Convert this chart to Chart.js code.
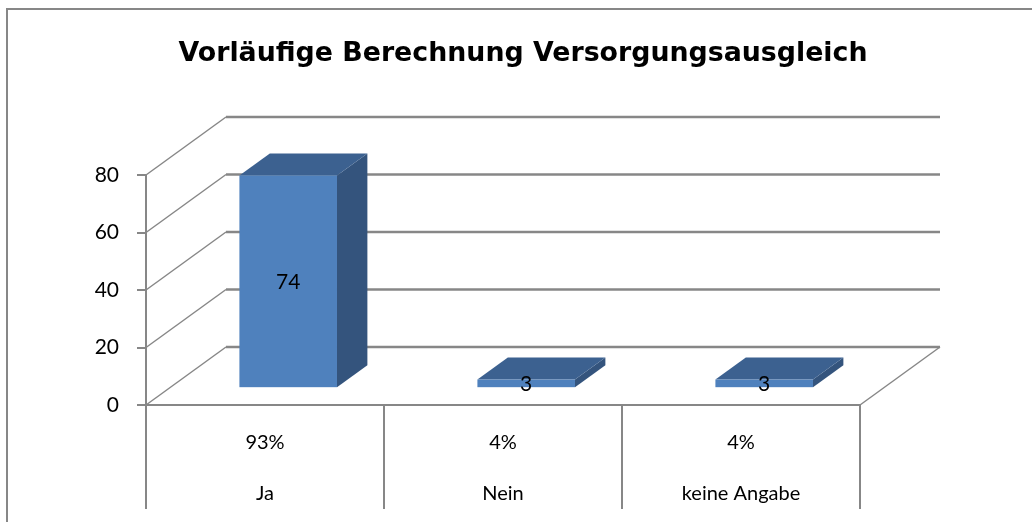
<!DOCTYPE html>
<html>
<head>
<meta charset="utf-8">
<script src="https://cdn.jsdelivr.net/npm/chart.js@4/dist/chart.umd.min.js"></script>
<style>
  html, body { margin: 0; padding: 0; background: #fff; }
  #wrap { width: 1032px; height: 522px; }
</style>
</head>
<body>
<div id="wrap"><canvas id="c" width="1032" height="522"></canvas></div>
<script>
var chartTitle = 'Vorläufige Berechnung Versorgungsausgleich';
var categories = ['Ja', 'Nein', 'keine Angabe'];
var counts = [74, 3, 3];
var shares = ['93%', '4%', '4%'];
var yTicks = [0, 20, 40, 60, 80];

var FONT = 'Lato, "Liberation Sans", sans-serif';
var GRID = '#878787';
// depth of the 3d box (floor goes back by DX, DY), bars sit between D0 and D1
var DX = 80, DY = -58;
var D0 = 0.29, D1 = 0.67;

var excel3d = {
    id: 'excel3d',
    beforeDatasetsDraw: function (chart) {
        var ctx = chart.ctx, a = chart.chartArea;
        var x = chart.scales.x, y = chart.scales.y;
        var y0 = y.getPixelForValue(0);
        ctx.save();

        // outer frame
        ctx.strokeStyle = GRID;
        ctx.lineWidth = 2;
        ctx.beginPath();
        ctx.moveTo(7, 522);
        ctx.lineTo(7, 9);
        ctx.lineTo(1032, 9);
        ctx.stroke();

        // title
        ctx.fillStyle = '#000';
        ctx.font = 'bold 26.8px "DejaVu Sans", sans-serif';
        ctx.textAlign = 'center';
        ctx.textBaseline = 'alphabetic';
        ctx.fillText(chartTitle, 523, 61);

        // side wall diagonals + back wall gridlines
        yTicks.forEach(function (v) {
            var py = y.getPixelForValue(v);
            ctx.lineWidth = 1.5;
            ctx.beginPath();
            ctx.moveTo(a.left, py);
            ctx.lineTo(a.left + DX, py + DY);
            ctx.stroke();
            ctx.lineWidth = 2.5;
            ctx.beginPath();
            ctx.moveTo(a.left + DX, py + DY);
            ctx.lineTo(a.right + DX, py + DY);
            ctx.stroke();
        });

        // floor
        ctx.lineWidth = 2;
        ctx.beginPath();
        ctx.moveTo(a.left, y0);
        ctx.lineTo(a.right, y0);
        ctx.stroke();
        ctx.lineWidth = 1.5;
        ctx.beginPath();
        ctx.moveTo(a.right, y0);
        ctx.lineTo(a.right + DX, y0 + DY);
        ctx.stroke();

        // category table under the floor
        var cw = x.getPixelForValue(1) - x.getPixelForValue(0);
        ctx.lineWidth = 2;
        for (var i = 0; i <= categories.length; i++) {
            var bx = x.getPixelForValue(0) - cw / 2 + i * cw;
            ctx.beginPath();
            ctx.moveTo(bx, y0);
            ctx.lineTo(bx, y0 + 104);
            ctx.stroke();
        }
        ctx.font = '20px ' + FONT;
        ctx.textBaseline = 'middle';
        categories.forEach(function (c, i) {
            var cx = x.getPixelForValue(i);
            ctx.fillText(shares[i], cx, y0 + 38);
            ctx.fillText(c, cx, y0 + 89);
        });
        ctx.restore();
    },
    afterDatasetsDraw: function (chart) {
        var ctx = chart.ctx;
        var meta = chart.getDatasetMeta(0);
        var fx = DX * D0, fy = DY * D0;
        var bx = DX * (D1 - D0), by = DY * (D1 - D0);
        ctx.save();
        meta.data.forEach(function (el, i) {
            var p = el.getProps(['x', 'y', 'base', 'width'], true);
            var L = p.x - p.width / 2 + fx, R = L + p.width;
            var T = p.y + fy, B = p.base + fy;
            // side
            ctx.fillStyle = '#34547d';
            ctx.beginPath();
            ctx.moveTo(R, T); ctx.lineTo(R + bx, T + by);
            ctx.lineTo(R + bx, B + by); ctx.lineTo(R, B);
            ctx.closePath(); ctx.fill();
            // top
            ctx.fillStyle = '#3c6190';
            ctx.beginPath();
            ctx.moveTo(L, T); ctx.lineTo(L + bx, T + by);
            ctx.lineTo(R + bx, T + by); ctx.lineTo(R, T);
            ctx.closePath(); ctx.fill();
            // front
            ctx.fillStyle = '#4f81bd';
            ctx.fillRect(L, T, R - L, B - T);
            // value label
            ctx.fillStyle = '#000';
            ctx.font = '21px ' + FONT;
            ctx.textAlign = 'center';
            ctx.textBaseline = 'middle';
            ctx.fillText(String(counts[i]), (L + R) / 2, (T + B) / 2 + 1);
        });
        ctx.restore();
    }
};

new Chart(document.getElementById('c'), {
    type: 'bar',
    data: {
        labels: categories,
        datasets: [{
            data: counts,
            backgroundColor: 'rgba(0,0,0,0)',
            borderWidth: 0,
            categoryPercentage: 1,
            barPercentage: 0.41
        }]
    },
    options: {
        responsive: false,
        animation: false,
        devicePixelRatio: 1,
        layout: { padding: { top: 175, right: 172, bottom: 117, left: 0 } },
        plugins: { legend: { display: false }, tooltip: { enabled: false }, title: { display: false } },
        scales: {
            x: { display: false, offset: true },
            y: {
                min: 0, max: 80,
                afterFit: function (s) { s.width = 146; },
                ticks: { stepSize: 20, color: '#000', padding: 18, font: { family: FONT, size: 21 } },
                grid: { drawOnChartArea: false, drawTicks: true, tickLength: 9, color: GRID, lineWidth: 2 },
                border: { display: true, color: GRID, width: 2 }
            }
        }
    },
    plugins: [excel3d]
});
</script>
</body>
</html>
